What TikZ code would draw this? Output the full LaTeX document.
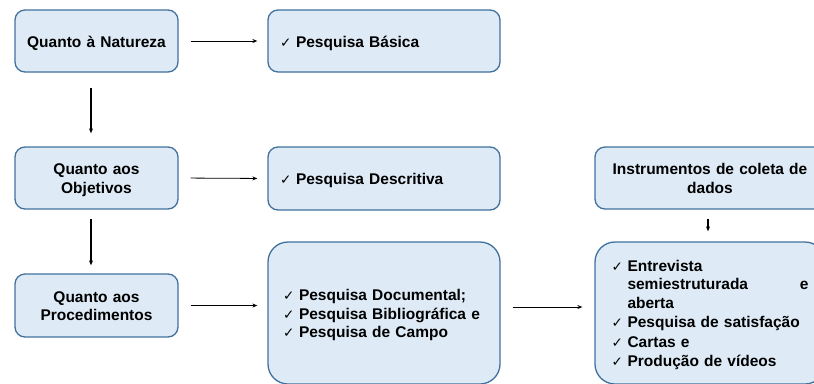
\documentclass[tikz,border=0pt]{standalone}
\usepackage{fontspec}
\setmainfont{Liberation Sans}
\newfontfamily\simbolo{DejaVu Sans}
\usetikzlibrary{arrows.meta}
\definecolor{caixafundo}{HTML}{DEEBF7}
\definecolor{caixaborda}{HTML}{41719C}
\newcommand{\marca}{\makebox[16pt][l]{\simbolo\mdseries\fontsize{13.5}{13.5}\selectfont ✓}}

\begin{document}
\begin{tikzpicture}[x=1pt, y=-1pt, every node/.style={text centered},
	caixa/.style={rectangle, draw=caixaborda, fill=caixafundo, line width=1.3pt,
		rounded corners=10pt, inner sep=0pt, text height=14pt, text depth=2pt,
		font=\fontsize{15.5}{18.5}\selectfont\bfseries},
	lista/.style={caixa, align=left},
	seta/.style={-{Stealth[length=5pt, width=4pt]}, line width=0.8pt}]
	\path[use as bounding box, clip] (0, 0) rectangle (814, 383);

	\draw 	(96.5, 41)		node[caixa, text width=163pt, minimum height=62pt] (natureza)
				{Quanto à Natureza}
			(384, 41)		node[lista, text width=208pt, inner xsep=12pt, minimum height=62pt] (basica)
				{\marca Pesquisa Básica}

			(96.5, 178)		node[caixa, text width=163pt, minimum height=62pt, text depth=20.5pt] (objetivos)
				{Quanto aos\\Objetivos}
			(384, 178.5)	node[lista, text width=208pt, inner xsep=12pt, minimum height=63pt] (descritiva)
				{\marca Pesquisa Descritiva}

			(96.5, 305.5)	node[caixa, text width=163pt, minimum height=63pt, text depth=20.5pt] (procedimentos)
				{Quanto aos\\Procedimentos}
			(384, 313)		node[lista, text width=202pt, inner xsep=15pt, minimum height=142pt, rounded corners=20pt, text depth=39pt] (tecnicas)
				{\marca Pesquisa Documental;\\
				 \marca Pesquisa Bibliográfica e\\
				 \marca Pesquisa de Campo}

			(710, 178)		node[caixa, text width=230pt, minimum height=62pt, text depth=20.5pt] (instrumentos)
				{Instrumentos de coleta de\\dados}
			(710, 313)		node[lista, text width=197pt, minimum width=230pt, minimum height=142pt, rounded corners=20pt, text depth=97.5pt] (coleta)
				{\marca Entrevista\\
				 \hspace*{16pt}semiestruturada\hfill e\\
				 \hspace*{16pt}aberta\\[1pt]
				 \marca Pesquisa de satisfação\\[1pt]
				 \marca Cartas e\\[1pt]
				 \marca Produção de vídeos}
;
	% setas
	\draw[seta, shorten <=12pt, shorten >=10pt] (natureza.east) -- (basica.west);
	\draw[seta, shorten <=12pt, shorten >=10pt] (objetivos.east) -- (descritiva.west);
	\draw[seta, shorten <=12pt, shorten >=10pt] (procedimentos.east) -- (procedimentos.east -| tecnicas.west);
	\draw[seta, shorten <=12pt, shorten >=12pt] ([yshift=6pt]tecnicas.east) -- ([yshift=6pt]tecnicas.east -| coleta.west);
	\draw[seta, line width=1.2pt, shorten <=15pt, shorten >=13pt] ([xshift=-5.5pt]natureza.south) -- ([xshift=-5.5pt]objetivos.north);
	\draw[seta, line width=1.2pt, shorten <=9pt, shorten >=8pt] ([xshift=-5.5pt]objetivos.south) -- ([xshift=-5.5pt]procedimentos.north);
	\draw[seta, line width=1.2pt, shorten <=9pt, shorten >=10pt] ([xshift=-2pt]instrumentos.south) -- ([xshift=-2pt]coleta.north);
\end{tikzpicture}
\end{document}
